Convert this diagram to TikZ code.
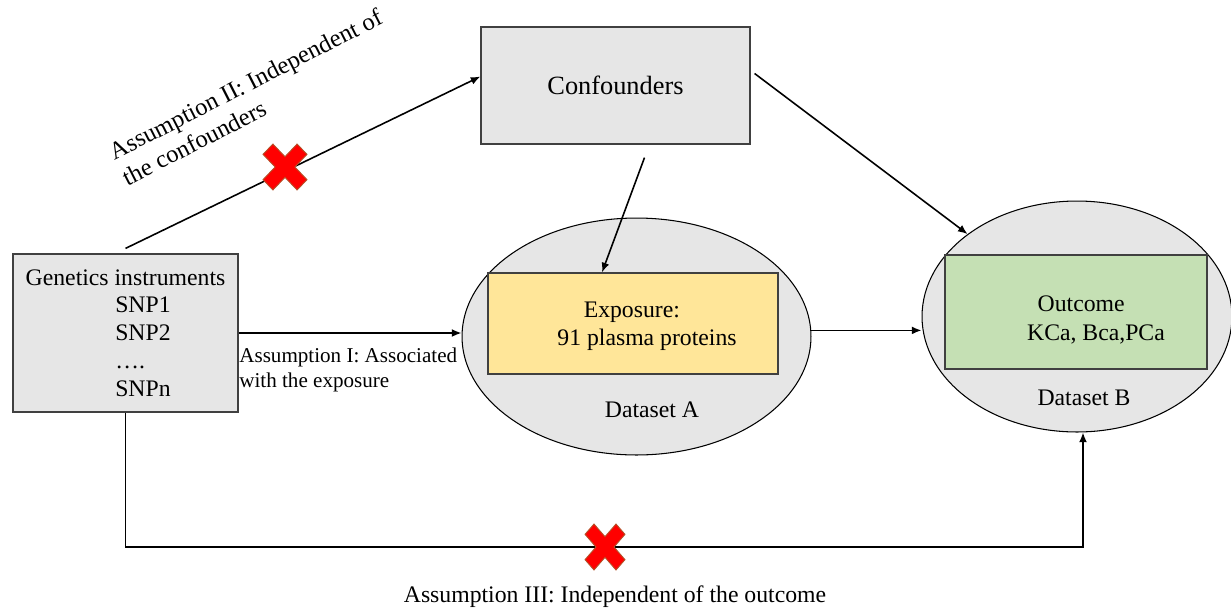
\documentclass[tikz,border=0pt]{standalone}
\usepackage{fontspec}
\setmainfont{Liberation Serif}
\usetikzlibrary{arrows.meta,calc,shapes.geometric}
\definecolor{boxgray}{HTML}{E6E6E6}
\definecolor{boxline}{HTML}{404040}
\definecolor{expofill}{HTML}{FFE699}
\definecolor{outfill}{HTML}{C5E0B4}
\definecolor{xbrown}{HTML}{B4532A}

\begin{document}
\begin{tikzpicture}[x=0.02cm,y=-0.02cm,
  box/.style={draw=boxline,fill=boxgray,line width=0.7pt,inner sep=0pt},
  dset/.style={ellipse,draw=black,fill=boxgray,line width=0.6pt,inner sep=0pt},
  txt/.style={font=\fontsize{13.5}{16}\selectfont,inner sep=0pt},
  arr/.style={line width=0.9pt,-{Latex[length=5.5pt,width=4.5pt]}},
  redx/.pic={\filldraw[fill=red,draw=xbrown,line width=0.5pt]
    (-1,-0.55)--(-0.55,-1)--(0,-0.45)--(0.55,-1)--(1,-0.55)--(0.45,0)
    --(1,0.55)--(0.55,1)--(0,0.45)--(-0.55,1)--(-1,0.55)--(-0.45,0)--cycle;}]

\useasboundingbox (0,0) rectangle (1231,609);

      \node[dset,minimum width=6.98cm,minimum height=4.74cm] (A) at (636.5,336.5) {};
      \node[dset,minimum width=6.2cm,minimum height=4.62cm] (B) at (1077,316.5) {};

      \node[box,minimum width=4.5cm,minimum height=3.16cm,align=left,
        font=\fontsize{13.5}{15.8}\selectfont] (genes) at (125.5,333)
        {Genetics instruments\\\hspace*{51pt}SNP1\\\hspace*{51pt}SNP2\\\hspace*{51pt}….\\\hspace*{51pt}SNPn};
       \node[box,minimum width=5.38cm,minimum height=2.34cm,
        font=\fontsize{15}{18}\selectfont] (conf) at (615.5,85.5) {Confounders};
        \node[box,fill=expofill,minimum width=5.8cm,minimum height=2.02cm] (expo) at (633,323.5) {};
        \node[box,fill=outfill,minimum width=5.24cm,minimum height=2.28cm] (out) at (1076,312) {};

      \node[txt,align=left] (expotxt) at (647,326) {\hspace*{15pt}Exposure:\\91 plasma proteins};
      \node[txt,align=left] (outtxt) at (1096,320) {\hspace*{6pt}Outcome\\KCa, Bca,PCa};
      \node[txt] (dsA) at (652,410) {Dataset A};
      \node[txt] (dsB) at (1084,398) {Dataset B};

\draw[arr] ($(genes.north)+(0,-5)$) -- ($(conf.west)+(0,-9)$);
\draw[arr] ($(conf.south)+(29,13)$) -- ($(expo.north)+(-31,0)$);
\draw[arr] ($(conf.east)+(4,-12)$) -- (B.143);
\draw[arr] (genes.east) -- (genes.east -| A.west);
\draw[arr] (A.2) -- (A.2 -| B.west);
\coordinate (low) at (1083,547);
\draw[arr] (genes.south) |- (low) -- (low |- B.south);

\pic[xscale=22,yscale=23] at (285,167) {redx};
\pic[xscale=20,yscale=23] at (605,547) {redx};

      \node[txt,font=\fontsize{14}{16.5}\selectfont,align=left,rotate=27] (asm2) at (252,97)
        {Assumption II: Independent of\\the confounders};
      \node[txt,font=\fontsize{12}{14.2}\selectfont,align=left,anchor=north west] (asm1) at (239,348)
        {Assumption I: Associated\\with the exposure};
      \node[txt] (asm3) at (615,597) {Assumption III: Independent of the outcome};
\end{tikzpicture}
\end{document}
